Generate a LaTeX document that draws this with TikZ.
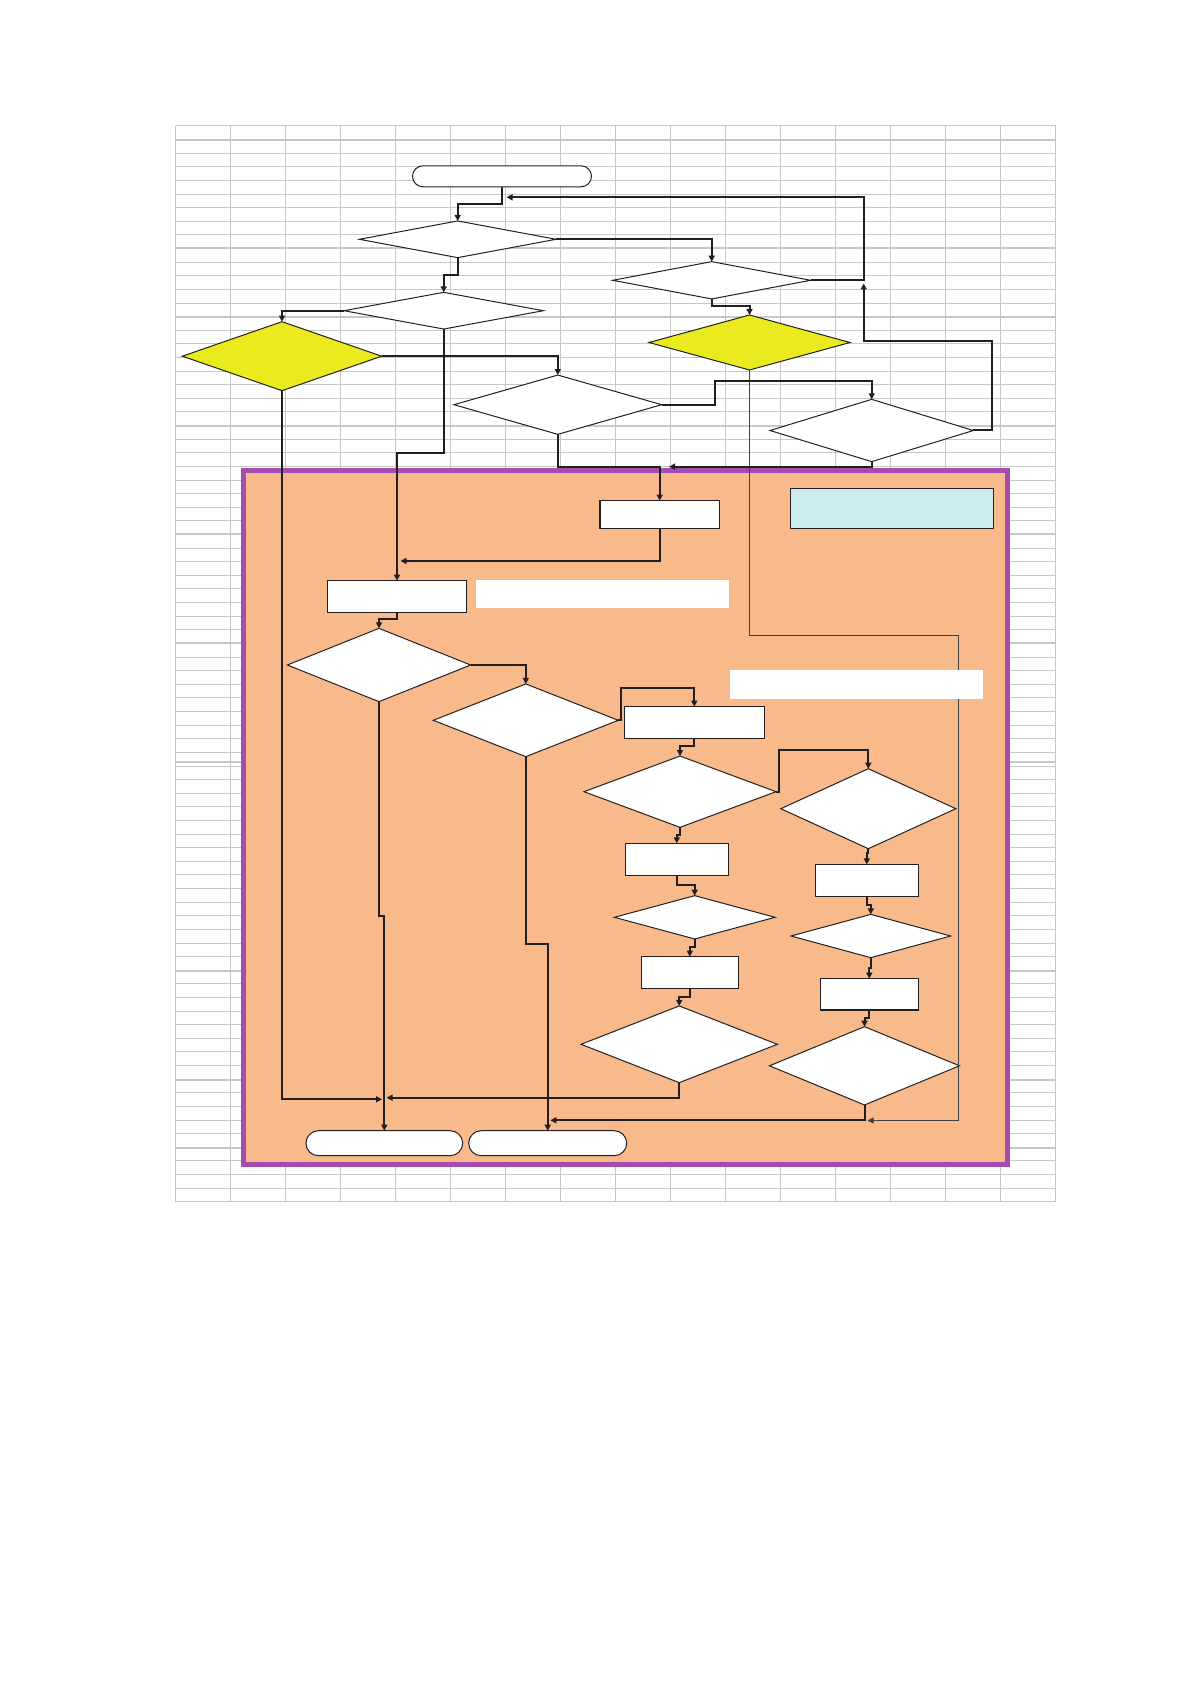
\documentclass[tikz,border=0pt]{standalone}
\usetikzlibrary{shapes.geometric,shapes.misc,arrows.meta}

\definecolor{gridgray}{RGB}{200,200,200}
\definecolor{linecol}{RGB}{35,31,32}
\definecolor{zoneorange}{RGB}{248,185,139}
\definecolor{zonepurple}{RGB}{166,76,176}
\definecolor{hotyellow}{RGB}{233,235,30}
\definecolor{notecyan}{RGB}{205,236,238}

\begin{document}
\begin{tikzpicture}[
    x=0.5pt,
    y=-0.5pt,
    sz/.style 2 args={minimum width=#1*0.5pt,minimum height=#2*0.5pt},
    cell/.style={draw=gridgray,line width=0.5pt},
    cellbold/.style={draw=gridgray,line width=1.1pt},
    zone/.style={draw=zonepurple,fill=zoneorange,line width=2.6pt},
    decision/.style={diamond,draw=linecol,fill=white,line width=0.5pt,inner sep=0pt,outer sep=0pt},
    hot/.style={decision,fill=hotyellow},
    process/.style={rectangle,draw=linecol,fill=white,line width=0.6pt,inner sep=0pt,outer sep=0pt},
    terminal/.style={rounded rectangle,draw=linecol,fill=white,line width=0.5pt,inner sep=0pt,outer sep=0pt},
    note/.style={process,fill=notecyan},
    blank/.style={rectangle,fill=white,inner sep=0pt,outer sep=0pt},
    flow/.style={draw=linecol,line width=1pt,-{Triangle[length=3pt,width=3pt]}},
    thinflow/.style={draw=linecol!85,line width=0.5pt,-{Triangle[length=3pt,width=3pt]}}
]
\useasboundingbox (0,0) rectangle (1190,1684);

% -------------------------------------------------
% Tabellen-Raster
% -------------------------------------------------

\foreach \i in {0,...,16}
  \draw[cell] ({175.7+55*\i},126) -- ({175.7+55*\i},1201.7);
\foreach \j in {0,...,79}
  \draw[cell] (175.7,{126+13.617*\j}) -- (1055.7,{126+13.617*\j});
\foreach \yy in {140,248.3,316.7,426,534.3,643.3,762.3,970.7,1080,1147.7}
  \draw[cellbold] (175.7,\yy) -- (1055.7,\yy);

% -------------------------------------------------
% Rahmen
% -------------------------------------------------

\draw[zone] (243.5,470.8) rectangle (1007.5,1164.8);

% -------------------------------------------------
% Oberer Teil
% -------------------------------------------------

\node[terminal,sz={179}{21}]     (start) at (502,176.3)   {};
\node[decision,sz={196.7}{36.7}] (d1)    at (457.7,239.3) {};
\node[decision,sz={198}{37.3}]   (d2)    at (711.7,280.3) {};
\node[hot,sz={201}{55}]          (d3)    at (749.5,342.5) {};
\node[decision,sz={199.3}{36.7}] (d4)    at (443.7,310.7) {};
\node[hot,sz={199.3}{69}]        (d5)    at (282,356.2)   {};
\node[decision,sz={207.7}{59.3}] (d6)    at (557.8,404.7) {};
\node[decision,sz={203.3}{62.3}] (d7)    at (871.7,430.5) {};

% -------------------------------------------------
% Innerer Teil
% -------------------------------------------------

\node[process,sz={119.3}{27.7}]  (b1)  at (659.7,514.5)  {};
\node[note,sz={203}{40}]         (nt)  at (891.8,508.3)  {};
\node[process,sz={139.3}{31.7}]  (b2)  at (397,596.5)    {};
\node[decision,sz={183.3}{73.3}] (d8)  at (379,665)      {};
\node[decision,sz={185}{72.7}]   (d9)  at (525.8,720.3)  {};
\node[process,sz={140}{31.7}]    (b3)  at (694.3,722.5)  {};
\node[decision,sz={192}{71.3}]   (d10) at (680,791.7)    {};
\node[decision,sz={175}{80}]     (d11) at (868.3,808.7)  {};
\node[process,sz={103}{32}]      (b4)  at (676.8,859.3)  {};
\node[decision,sz={160.7}{43.3}] (d12) at (694.7,917.3)  {};
\node[process,sz={97}{31.7}]     (b5)  at (689.8,972.5)  {};
\node[decision,sz={196.3}{76.7}] (d13) at (679.2,1044.3) {};
\node[process,sz={103}{32}]      (b6)  at (866.8,880.3)  {};
\node[decision,sz={159.7}{43.3}] (d14) at (870.8,936)    {};
\node[process,sz={98}{31.3}]     (b7)  at (869.3,994.3)  {};
\node[decision,sz={190}{78.3}]   (d15) at (864.5,1065.8) {};
\node[terminal,sz={156.7}{25}]   (end1) at (384.3,1143.2) {};
\node[terminal,sz={158}{25}]     (end2) at (547.7,1143.2) {};

% Knickpunkte
\coordinate (jr)  at (863.7,197.3);
\coordinate (jin) at (506.5,197.3);
\coordinate (jup) at (863.7,283.5);
\coordinate (jb)  at (867.5,1120.5);
\coordinate (jc)  at (669,466.7);
\coordinate (jd)  at (400.5,561);
\coordinate (je)  at (382,1099.3);
\coordinate (jf)  at (386.5,1097.7);
\coordinate (jg)  at (550.3,1120.3);

% -------------------------------------------------
% Verbindungen
% -------------------------------------------------

\draw[flow] (start.south) -- ++(0,17) -| (d1.north);
\draw[flow] (d1.east) -| (d2.north);
\draw[flow] (d2.east) -| (jr) -- (jin);
\draw[flow] (d2.south) -- ++(0,7.5) -| (d3.north);
\draw[flow] (d7.east) -- ++(19,0) -- ++(0,-89.8) -| (jup);
\draw[thinflow] (d3.south) -- ++(0,265.7) -- ++(209.3,0) |- (jb);
\draw[flow] (d1.south) -- ++(0,17.5) -| (d4.north);
\draw[flow] (d4.west) -| (d5.north);
\draw[flow] (d5.east) -| (d6.north);
\draw[flow] (d6.east) -- ++(53.5,0) -- ++(0,-23.7) -| (d7.north);
\draw[flow] (d7.south) |- (jc);
\draw[flow] (d6.south) -- ++(0,32.5) -| (b1.north);
\draw[flow] (b1.south) |- (jd);
\draw[flow] (d4.south) -- ++(0,124.3) -| (b2.north);
\draw[flow] (d5.south) |- (je);

\draw[flow] (b2.south) -- ++(0,7) -| (d8.north);
\draw[flow] (d8.east) -| (d9.north);
\draw[flow] (d8.south) -- ++(0,214) -| (end1.north);
\draw[flow] (d9.south) -- ++(0,187.3) -| (end2.north);
\draw[flow] (d9.east) -- ++(2.4,0) -- ++(0,-32) -| (b3.north);
\draw[flow] (b3.south) -- ++(0,7.7) -| (d10.north);
\draw[flow] (d10.east) -- ++(3,0) -- ++(0,-41.7) -| (d11.north);
\draw[flow] (d10.south) -- ++(0,7.7) -| (b4.north);
\draw[flow] (b4.south) -- ++(0,9.7) -| (d12.north);
\draw[flow] (d12.south) -- ++(0,7.7) -| (b5.north);
\draw[flow] (b5.south) -- ++(0,8.3) -| (d13.north);
\draw[flow] (d13.south) |- (jf);
\draw[flow] (d11.south) -- ++(0,4) -| (b6.north);
\draw[flow] (b6.south) -- ++(0,8.7) -| (d14.north);
\draw[flow] (d14.south) -- ++(0,10) -| (b7.north);
\draw[flow] (b7.south) -- ++(0,8.3) -| (d15.north);
\draw[flow] (d15.south) |- (jg);

% weisse Felder
\node[blank,sz={253}{28.3}]   (w1) at (602.5,594.2) {};
\node[blank,sz={252.7}{28.7}] (w2) at (856.3,684.3) {};

\end{tikzpicture}
\end{document}
